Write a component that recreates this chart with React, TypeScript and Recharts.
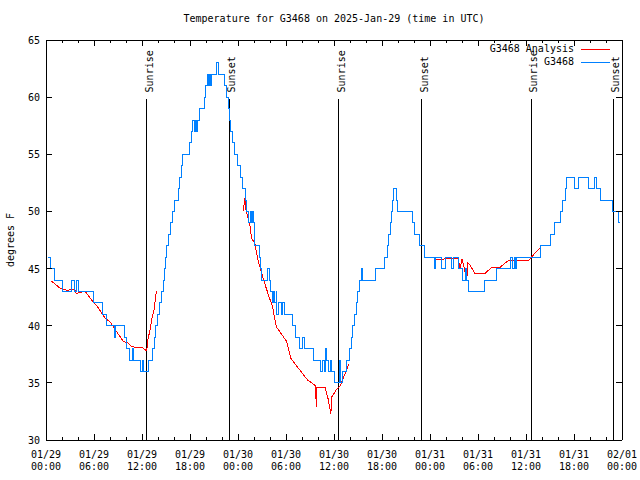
import { LineChart, Line, XAxis, YAxis, ReferenceLine, Legend } from 'recharts'

// hours since 01/29 00:00 UTC
const obsHours = [
  0.3, 0.5, 1.1, 2.1, 3.2, 3.5, 3.75, 4.1, 5.95, 7.0, 7.5, 8.6, 8.7, 9.75, 10.1, 10.4, 10.85, 10.95,
  11.85, 12.0, 12.2, 12.85, 13.35, 13.5, 13.7, 13.95, 14.15, 14.4, 14.65, 14.8, 14.95, 15.1, 15.3, 15.5,
  15.75, 16.0, 16.5, 16.7, 16.9, 17.1, 17.95, 18.15, 18.35, 18.55, 18.65, 18.8, 18.9, 19.2, 19.85, 19.95,
  20.15, 20.35, 20.45, 20.55, 20.7, 21.3, 21.6, 22.3, 22.55, 22.75, 22.9, 23.1, 23.35, 23.6, 23.9, 24.25,
  24.5, 24.95, 25.05, 25.35, 25.55, 25.65, 25.8, 25.9, 26.0, 26.1, 26.7, 26.85, 26.95, 27.7, 27.9, 28.05,
  28.25, 28.45, 28.55, 28.75, 28.85, 29.1, 29.4, 29.6, 29.75, 30.85, 31.2, 31.7, 32.05, 32.3, 33.4, 34.35,
  34.6, 34.8, 34.95, 35.1, 35.25, 35.55, 35.65, 36.05, 36.7, 36.85, 37.05, 37.55, 37.9, 38.15, 38.35, 38.55,
  38.75, 38.95, 39.2, 39.45, 39.6, 41.2, 42.35, 42.65, 42.85, 43.05, 43.2, 43.3, 43.45, 43.75, 43.95, 45.75,
  46.0, 46.7, 47.35, 48.6, 48.7, 49.45, 49.9, 50.7, 50.9, 51.5, 52.0, 52.4, 52.5, 52.75, 54.75, 56.3,
  58.1, 58.3, 58.55, 58.65, 58.8, 61.8, 63.0, 63.5, 64.35, 64.6, 64.95, 65.1, 66.0, 66.5, 67.8, 68.5,
  68.75, 69.35, 70.8, 71.55, 71.75,
]
const obsTemps = [
  46, 45, 44, 43, 44, 43, 44, 43, 42, 41, 40, 39, 40, 39, 38, 37, 38, 37,
  36, 37, 36, 37, 38, 39, 40, 41, 42, 43, 44, 45, 46, 47, 48, 49,
  50, 51, 52, 53, 54, 55, 56, 57, 58, 57, 58, 57, 58, 59, 60, 61,
  62, 61, 62, 61, 62, 63, 62, 61, 60, 59, 58, 57, 56, 55, 54, 53,
  52, 51, 50, 49, 50, 49, 50, 49, 48, 47, 46, 45, 44, 45, 44, 43,
  42, 43, 42, 43, 41, 42, 41, 42, 41, 40, 39, 38, 39, 38, 37, 36,
  37, 36, 38, 37, 36, 37, 36, 35, 37, 35, 36, 37, 38, 39, 40, 41,
  42, 43, 44, 45, 44, 45, 46, 47, 48, 49, 50, 51, 52, 51, 50, 49,
  48, 47, 46, 45, 46, 45, 46, 45, 46, 45, 44, 45, 44, 43, 44, 45,
  46, 45, 46, 45, 46, 47, 48, 49, 50, 51, 52, 53, 52, 53, 52, 53,
  52, 51, 50, 49, 49,
]

const anaHours = [
  0.6, 0.9, 1.7, 2.6, 3.6, 3.8, 4.2, 4.9, 5.7, 6.5, 7.4, 8.0, 8.8, 9.7, 10.2, 10.7, 12.0, 12.6,
  12.7, 13.0, 13.2, 13.5, 13.8,
  18,
  24.67, 24.85, 25.0, 25.5, 25.7, 26.1, 26.5, 27.2, 27.8, 28.3, 28.8, 29.7, 30.1, 30.6, 31.75, 32.7,
  33.6, 33.7, 33.78, 33.86, 34.9, 35.3, 35.6, 35.75, 36.3, 36.75, 37.2, 37.9,
  42,
  48.75, 51.5, 51.75, 52.0, 52.3, 52.6, 52.7, 52.9, 53.6, 54.9, 55.7, 56.75, 57.4, 57.8, 60.3, 60.7,
  61.3, 61.75,
]
const anaTemps = [
  43.9, 43.8, 43.3, 43.1, 43.2, 42.8, 42.9, 43.0, 42.25, 41.6, 40.65, 40.35, 39.5, 38.6, 38.5, 38.15, 38.1, 37.8,
  38.7, 39.6, 40.5, 41.4, 43.0,
  null,
  50.0, 51.2, 50.1, 48.7, 47.65, 47.2, 45.75, 44.0, 42.7, 41.7, 39.9, 39.0, 38.6, 37.15, 36.1, 35.25,
  34.8, 34.8, 32.9, 34.6, 34.6, 33.5, 32.3, 33.8, 34.4, 34.7, 35.5, 36.7,
  null,
  45.8, 45.9, 45.0, 45.8, 45.0, 44.0, 45.5, 45.4, 44.6, 44.6, 45.1, 45.1, 45.5, 45.7, 45.7, 46.0,
  46.5, 46.8,
]

const sunHours = [12.6, 22.9, 36.6, 46.95, 60.65, 70.9]
const sunNames = ['Sunrise', 'Sunset', 'Sunrise', 'Sunset', 'Sunrise', 'Sunset']

const xTicks = [0, 2, 4, 6, 8, 10, 12, 14, 16, 18, 20, 22, 24, 26, 28, 30, 32, 34, 36, 38, 40, 42, 44, 46, 48, 50, 52, 54, 56, 58, 60, 62, 64, 66, 68, 70, 72]
const xTickDates = ['01/29', '01/29', '01/29', '01/29', '01/30', '01/30', '01/30', '01/30', '01/31', '01/31', '01/31', '01/31', '02/01']
const xTickTimes = ['00:00', '06:00', '12:00', '18:00', '00:00', '06:00', '12:00', '18:00', '00:00', '06:00', '12:00', '18:00', '00:00']
const yTicks = [30, 35, 40, 45, 50, 55, 60, 65]

const obsData = obsHours.map((h, i) => ({ h, t: obsTemps[i] }))
const anaData = anaHours.map((h, i) => ({ h, t: anaTemps[i] }))

const FONT = '"DejaVu Sans Mono", monospace'
const RED = '#ff0000'
const BLUE = '#0080ff'

const BottomTick = ({ x, y, payload }: any) => {
  const major = payload.value % 6 === 0
  const idx = payload.value / 6
  return (
    <g>
      <line x1={x} x2={x} y1={y} y2={y - (major ? 6 : 3)} stroke="#000" />
      {major && (
        <text x={x} y={y + 18} textAnchor="middle" fontFamily={FONT} fontSize={10} fill="#000">
          <tspan x={x}>{xTickDates[idx]}</tspan>
          <tspan x={x} dy={12}>{xTickTimes[idx]}</tspan>
        </text>
      )}
    </g>
  )
}

const TopTick = ({ x, y, payload }: any) => {
  const major = payload.value % 6 === 0
  return <line x1={x} x2={x} y1={y} y2={y + (major ? 6 : 3)} stroke="#000" />
}

const LeftTick = ({ x, y, payload }: any) => (
  <g>
    <line x1={x} x2={x + 6} y1={y} y2={y} stroke="#000" />
    <text x={x - 6} y={y + 4} textAnchor="end" fontFamily={FONT} fontSize={10} fill="#000">
      {payload.value}
    </text>
  </g>
)

const RightTick = ({ x, y }: any) => <line x1={x} x2={x - 6} y1={y} y2={y} stroke="#000" />

const sunLabel = (name: string) => (props: any) => {
  const { x, y } = props.viewBox
  const tx = x + 6
  const ty = y - 7
  return (
    <text x={tx} y={ty} transform={`rotate(-90 ${tx} ${ty})`} fontFamily={FONT} fontSize={10} fill="#000">
      {name}
    </text>
  )
}

const renderLegend = () => (
  <div style={{ position: 'relative', width: 640, height: 0, fontFamily: FONT, fontSize: 10 }}>
    {[
      { name: 'G3468 Analysis', color: RED },
      { name: 'G3468', color: BLUE },
    ].map((item, i) => (
      <div key={item.name}>
        <div style={{ position: 'absolute', right: 66, top: 43 + i * 12.5, whiteSpace: 'pre', lineHeight: '12px' }}>
          {item.name}
        </div>
        <div style={{ position: 'absolute', left: 581, width: 29, top: 49 + i * 12.5, height: 1, background: item.color }} />
      </div>
    ))}
  </div>
)

export default function App() {
  return (
    <div style={{ position: 'absolute', left: 0, top: 0, width: 640, height: 480, background: '#fff', shapeRendering: 'crispEdges' }}>
      <div style={{ position: 'absolute', left: 0, width: 668, top: 13, textAlign: 'center', fontFamily: FONT, fontSize: 10, lineHeight: '12px' }}>
        Temperature for G3468 on 2025-Jan-29 (time in UTC)
      </div>
      <div
        style={{
          position: 'absolute', left: 11, top: 240, transform: 'translate(-50%, -50%) rotate(-90deg)',
          fontFamily: FONT, fontSize: 10, whiteSpace: 'pre', lineHeight: '12px',
        }}
      >
        degrees F
      </div>
      <LineChart width={640} height={480} margin={{ top: 30, right: 8, bottom: 10, left: 6 }}>
        <XAxis
          dataKey="h" type="number" domain={[0, 72]} ticks={xTicks} interval={0} height={30}
          tickSize={0} tickMargin={0} tick={<BottomTick />} axisLine={{ stroke: '#000' }} allowDataOverflow
        />
        <XAxis
          xAxisId="top" orientation="top" dataKey="h" type="number" domain={[0, 72]} ticks={xTicks} interval={0}
          height={10} tickSize={0} tickMargin={0} tick={<TopTick />} axisLine={{ stroke: '#000' }} allowDataOverflow
        />
        <YAxis
          type="number" domain={[30, 65]} ticks={yTicks} interval={0} width={40} tickSize={0} tickMargin={0}
          tick={<LeftTick />} axisLine={{ stroke: '#000' }} allowDataOverflow
        />
        <YAxis
          yAxisId="right" orientation="right" type="number" domain={[30, 65]} ticks={yTicks} interval={0} width={10}
          tickSize={0} tickMargin={0} tick={<RightTick />} axisLine={{ stroke: '#000' }} allowDataOverflow
        />
        {sunHours.map((h, i) => (
          <ReferenceLine
            key={i}
            segment={[{ x: h, y: 59.8 }, { x: h, y: 30 }]}
            stroke="#000"
            strokeWidth={1}
            label={sunLabel(sunNames[i])}
          />
        ))}
        <Line
          data={anaData} dataKey="t" name="G3468 Analysis" type="linear" stroke={RED} strokeWidth={1}
          dot={false} isAnimationActive={false} connectNulls={false}
        />
        <Line
          data={obsData} dataKey="t" name="G3468" type="stepAfter" stroke={BLUE} strokeWidth={1}
          dot={false} isAnimationActive={false}
        />
        <Legend
          layout="vertical" align="center" verticalAlign="middle" content={renderLegend}
          wrapperStyle={{ left: 0, top: 0, width: 640, height: 0 }}
        />
      </LineChart>
    </div>
  )
}
